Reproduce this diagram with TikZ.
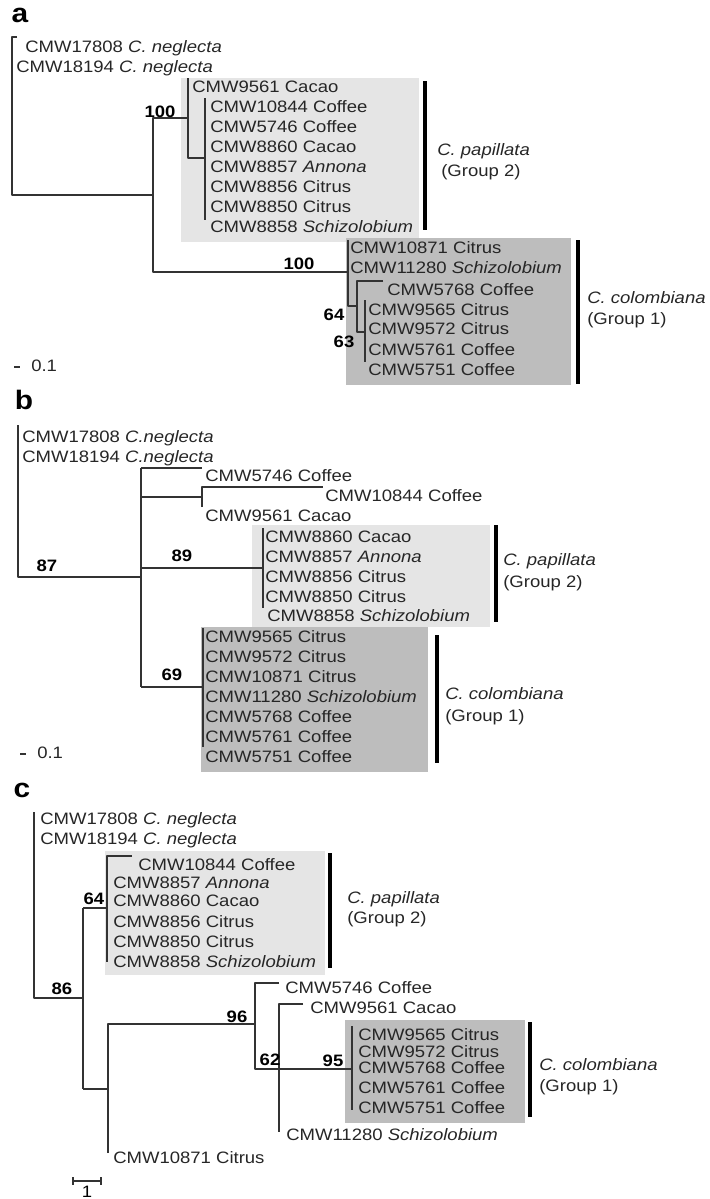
\documentclass[tikz,border=0pt]{standalone}
\usepackage{fontspec}
\setmainfont{Liberation Sans}[FakeStretch=1.12]
\begin{document}
\begin{tikzpicture}[x=0.75pt,y=-0.75pt,line join=round,font=\fontsize{12.4}{14}\selectfont,
	taxon/.style={anchor=west,inner sep=0pt,text height=0.72em,text depth=0pt,text=black!85},
	support/.style={inner sep=0pt,text height=0.72em,text depth=0pt,font=\fontsize{12.4}{14}\selectfont\bfseries},
	panel/.style={inner sep=0pt,font=\fontsize{20}{20}\selectfont\bfseries},
	branch/.style={line width=1.1pt,draw=black!80},
	bar/.style={line width=2.3pt},
	lightbox/.style={fill=black!10},
	darkbox/.style={fill=black!26}]
\useasboundingbox (0,0) rectangle (710,1199);
%% panel a
\node[panel] (a) at (20,15) {a};
\fill[lightbox] (181,78) rectangle (419,242);
\fill[darkbox] (346,238) rectangle (571,385);
\draw[branch] (17,37)--(12,37)--(12,195)--(153,195);
\draw[branch] (188,118)--(153,118)--(153,272)--(348,272);
\draw[branch] (188,78)--(188,158)--(205,158);
\draw[branch] (205,98)--(205,220);
\draw[branch] (348,240)--(348,306)--(357,306);
\draw[branch] (383,281)--(357,281)--(357,332)--(365,332);
\draw[branch] (365,300)--(365,362);
\draw[bar] (425,81)--(425,230);
\draw[bar] (578,240)--(578,384);
\node[taxon] (a17808) at (25,48) {CMW17808 \textit{C. neglecta}};
\node[taxon] (a18194) at (16,68) {CMW18194 \textit{C. neglecta}};
\node[taxon] (a9561) at (192,88) {CMW9561 Cacao};
\foreach \y/\t [count=\i] in {108/CMW10844 Coffee,128/CMW5746 Coffee,148/CMW8860 Cacao,168/CMW8857 \textit{Annona},
	188/CMW8856 Citrus,208/CMW8850 Citrus,228/CMW8858 \textit{Schizolobium}}
	\node[taxon] (ap\i) at (210,\y) {\t};
\node[taxon] (a10871) at (350,249) {CMW10871 Citrus};
\node[taxon] (a11280) at (350,269) {CMW11280 \textit{Schizolobium}};
\node[taxon] (a5768) at (387,291) {CMW5768 Coffee};
\foreach \y/\t [count=\i] in {311/CMW9565 Citrus,330/CMW9572 Citrus,351/CMW5761 Coffee,371/CMW5751 Coffee}
	\node[taxon] (ac\i) at (368,\y) {\t};
\node[support] (as1) at (160,113) {100};
\node[support] (as2) at (299,265) {100};
\node[support] (as3) at (334,316) {64};
\node[support] (as4) at (344,343) {63};
\node[taxon] (apap) at (437,151) {\textit{C. papillata}};
\node[taxon] (apapg) at (441,172) {(Group 2)};
\node[taxon] (acol) at (587,299) {\textit{C. colombiana}};
\node[taxon] (acolg) at (587,320) {(Group 1)};
\draw[branch] (14,367)--(20,367);
\node[taxon] (ascale) at (31,367) {0.1};
%% panel b
\node[panel] (b) at (24,400) {b};
\fill[lightbox] (252,525) rectangle (490,627);
\fill[darkbox] (201,627) rectangle (428,772);
\draw[branch] (18,425)--(18,577)--(141,577);
\draw[branch] (141,468)--(141,687);
\draw[branch] (141,468)--(202,468);
\draw[branch] (141,497)--(202,497);
\draw[branch] (202,507)--(202,487)--(323,487);
\draw[branch] (141,568)--(263,568);
\draw[branch] (263,528)--(263,608);
\draw[branch] (141,687)--(203,687);
\draw[branch] (203,628)--(203,747);
\draw[bar] (496,525)--(496,622);
\draw[bar] (437,635)--(437,763);
\node[taxon] (b17808) at (22,438) {CMW17808 \textit{C.neglecta}};
\node[taxon] (b18194) at (22,458) {CMW18194 \textit{C.neglecta}};
\node[taxon] (b5746) at (205,477) {CMW5746 Coffee};
\node[taxon] (b10844) at (325,497) {CMW10844 Coffee};
\node[taxon] (b9561) at (205,517) {CMW9561 Cacao};
\foreach \y/\t [count=\i] in {538/CMW8860 Cacao,558/CMW8857 \textit{Annona},578/CMW8856 Citrus,598/CMW8850 Citrus}
	\node[taxon] (bp\i) at (265,\y) {\t};
\node[taxon] (b8858) at (267,617) {CMW8858 \textit{Schizolobium}};
\foreach \y/\t [count=\i] in {638/CMW9565 Citrus,658/CMW9572 Citrus,678/CMW10871 Citrus,698/CMW11280 \textit{Schizolobium},
	718/CMW5768 Coffee,738/CMW5761 Coffee,758/CMW5751 Coffee}
	\node[taxon] (bc\i) at (205,\y) {\t};
\node[support] (bs1) at (47,567) {87};
\node[support] (bs2) at (182,557) {89};
\node[support] (bs3) at (172,676) {69};
\node[taxon] (bpap) at (503,561) {\textit{C. papillata}};
\node[taxon] (bpapg) at (503,583) {(Group 2)};
\node[taxon] (bcol) at (445,695) {\textit{C. colombiana}};
\node[taxon] (bcolg) at (445,717) {(Group 1)};
\draw[branch] (20,754)--(26,754);
\node[taxon] (bscale) at (37,754) {0.1};
%% panel c
\node[panel] (c) at (22,790) {c};
\fill[lightbox] (105,851) rectangle (325,975);
\fill[darkbox] (345,1020) rectangle (525,1123);
\draw[branch] (34,812)--(34,998)--(83,998);
\draw[branch] (83,908)--(83,1089);
\draw[branch] (83,908)--(107,908);
\draw[branch] (132,856)--(107,856)--(107,962);
\draw[branch] (83,1089)--(108,1089);
\draw[branch] (108,1153)--(108,1024)--(255,1024);
\draw[branch] (279,983)--(255,983)--(255,1069)--(352,1069);
\draw[branch] (303,1004)--(279,1004)--(279,1132);
\draw[branch] (352,1026)--(352,1110);
\draw[bar] (330,853)--(330,968);
\draw[bar] (530,1022)--(530,1117);
\node[taxon] (c17808) at (40,820) {CMW17808 \textit{C. neglecta}};
\node[taxon] (c18194) at (40,840) {CMW18194 \textit{C. neglecta}};
\node[taxon] (c10844) at (138,866) {CMW10844 Coffee};
\foreach \y/\t [count=\i] in {884/CMW8857 \textit{Annona},902/CMW8860 Cacao,923/CMW8856 Citrus,943/CMW8850 Citrus,
	963/CMW8858 \textit{Schizolobium}}
	\node[taxon] (cp\i) at (113,\y) {\t};
\node[taxon] (c5746) at (285,989) {CMW5746 Coffee};
\node[taxon] (c9561) at (310,1009) {CMW9561 Cacao};
\foreach \y/\t [count=\i] in {1036/CMW9565 Citrus,1053/CMW9572 Citrus,1069/CMW5768 Coffee,1089/CMW5761 Coffee,
	1109/CMW5751 Coffee}
	\node[taxon] (cc\i) at (358,\y) {\t};
\node[taxon] (c11280) at (286,1136) {CMW11280 \textit{Schizolobium}};
\node[taxon] (c10871) at (113,1159) {CMW10871 Citrus};
\node[support] (cs1) at (62,990) {86};
\node[support] (cs2) at (94,900) {64};
\node[support] (cs3) at (237,1018) {96};
\node[support] (cs4) at (270,1061) {62};
\node[support] (cs5) at (333,1062) {95};
\node[taxon] (cpap) at (347,899) {\textit{C. papillata}};
\node[taxon] (cpapg) at (347,919) {(Group 2)};
\node[taxon] (ccol) at (539,1066) {\textit{C. colombiana}};
\node[taxon] (ccolg) at (539,1087) {(Group 1)};
\draw[branch] (73,1177)--(73,1185) (73,1181)--(101,1181) (101,1177)--(101,1185);
\node[support,font=\fontsize{12.4}{14}\selectfont] (cscale) at (87,1193) {1};
\end{tikzpicture}
\end{document}
